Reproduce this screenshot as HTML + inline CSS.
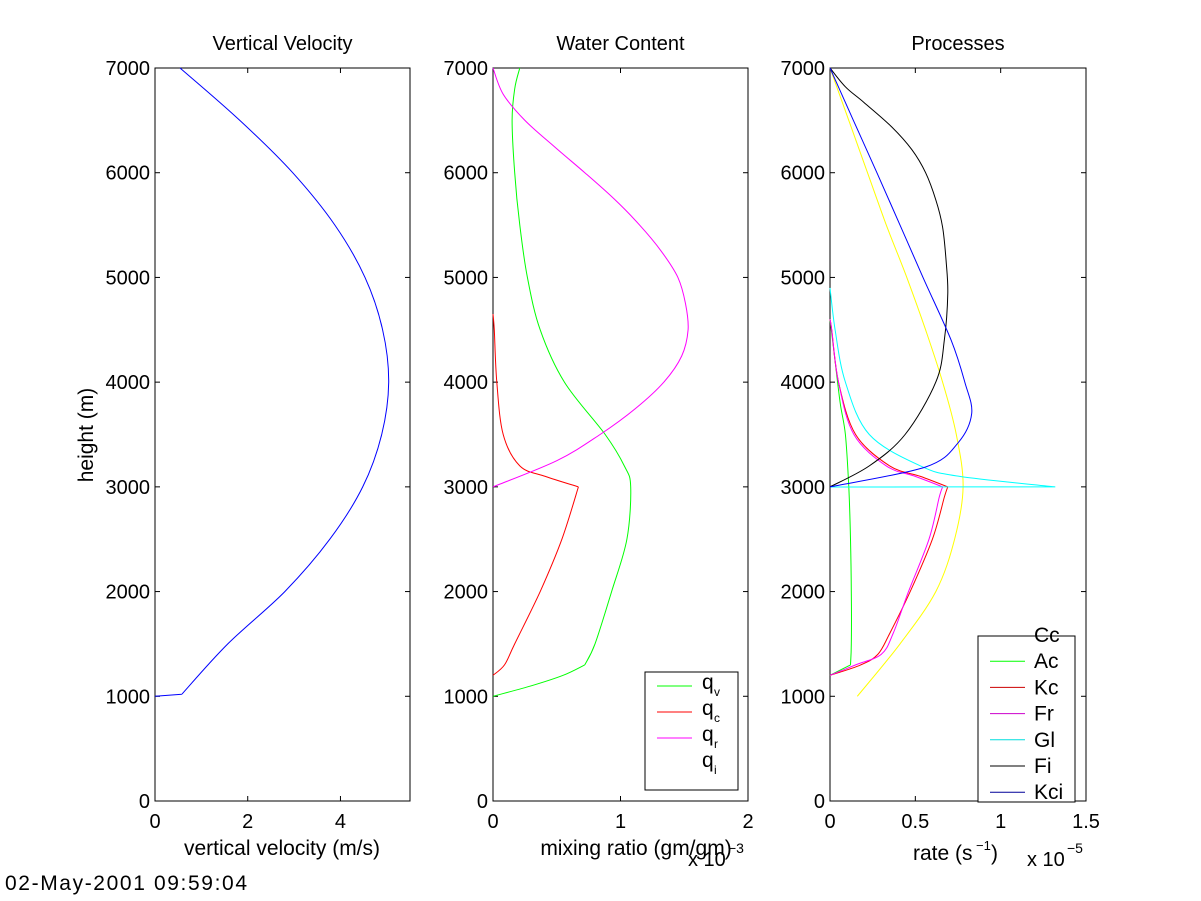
<!DOCTYPE html>
<html><head><meta charset="utf-8"><style>
html,body{margin:0;padding:0;background:#fff;}
svg{display:block;font-family:"Liberation Sans",sans-serif;}
</style></head><body>
<svg id="fig" width="1201" height="901" viewBox="0 0 1201 901" xmlns="http://www.w3.org/2000/svg"></svg>
<script>
const yTicks=[0,1000,2000,3000,4000,5000,6000,7000];
const velH=[1000,1020,1500,2000,2500,3000,3500,4000,4500,5000,5500,6000,6500,7000];
const velW=[0,0.58,1.57,2.8,3.77,4.48,4.89,5.04,4.91,4.53,3.88,2.97,1.83,0.54];
const qvH=[1000,1100,1200,1300,1500,2000,2500,3000,3200,3500,4000,4500,5000,5500,6000,6500,6800,7000];
const qvV=[0,0.3,0.55,0.72,0.8,0.93,1.05,1.08,1.03,0.88,0.56,0.37,0.27,0.21,0.17,0.15,0.17,0.21];
const qcH=[1200,1300,1500,2000,2500,3000,3100,3200,3500,4000,4500,4650];
const qcV=[0,0.09,0.17,0.37,0.54,0.67,0.41,0.21,0.08,0.03,0.01,0];
const qrH=[3000,3250,3500,3750,4000,4250,4500,4750,5000,5250,5500,5750,6000,6250,6500,6750,7000];
const qrV=[0,0.5,0.84,1.12,1.34,1.48,1.53,1.51,1.45,1.32,1.15,0.95,0.72,0.48,0.25,0.08,0];
const ccH=[1000,1500,2000,2500,3000,3500,4000,4500,5000,5500,6000,6500,7000];
const ccV=[0.16,0.41,0.62,0.73,0.78,0.74,0.66,0.56,0.45,0.33,0.22,0.11,0];
const acH=[1200,1300,1500,2000,2500,3000,3500,3800,4200,4600];
const acV=[0,0.12,0.125,0.125,0.12,0.11,0.09,0.06,0.03,0];
const kcH=[1200,1300,1400,1600,2000,2500,2900,3000,3100,3200,3500,4000,4500,4600];
const kcV=[0,0.18,0.28,0.35,0.47,0.6,0.67,0.69,0.53,0.35,0.15,0.05,0.01,0];
const frH=[1200,1300,1400,1600,2000,2500,2900,3000,3100,3200,3500,4000,4500,4600];
const frV=[0,0.15,0.3,0.37,0.46,0.58,0.64,0.66,0.5,0.33,0.14,0.05,0.01,0];
const glH=[2999,3000,3100,3200,3500,4000,4500,4900];
const glV=[0,1.32,0.76,0.53,0.23,0.09,0.03,0];
const fiH=[3000,3200,3500,4000,4400,4850,5160,5480,5740,6000,6220,6440,6670,6820,7000];
const fiV=[0,0.23,0.44,0.62,0.67,0.69,0.68,0.66,0.62,0.56,0.48,0.36,0.2,0.09,0];
const kciH=[3000,3190,3420,3700,4000,4400,5000,5500,6000,6500,7000];
const kciV=[0,0.56,0.75,0.83,0.79,0.71,0.545,0.41,0.275,0.137,0];

const svg=document.getElementById('fig');
const NS='http://www.w3.org/2000/svg';
function mk(tag,attrs,parent){const e=document.createElementNS(NS,tag);for(const k in attrs)e.setAttribute(k,attrs[k]);(parent||svg).appendChild(e);return e;}
const Y0=801,Y1=68;
function yS(h){return Y0-(h/7000)*(Y0-Y1);}
function text(x,y,s,anchor,size,name){const t=mk('text',{x:x,y:y,'text-anchor':anchor||'middle','font-size':size||20,fill:'#000'});t.textContent=s;


return t;}
function axes(x0,x1,xmax,xt,xlabels,title,name){
  const g=mk('g',{});
  
  
  const xs=v=>x0+(v/xmax)*(x1-x0);
  mk('rect',{x:x0,y:Y1,width:x1-x0,height:Y0-Y1,fill:'none',stroke:'#000','stroke-width':1},g);
  yTicks.forEach(h=>{const y=yS(h);mk('line',{x1:x0,y1:y,x2:x0+5,y2:y,stroke:'#000'},g);mk('line',{x1:x1,y1:y,x2:x1-5,y2:y,stroke:'#000'},g);
    text(x0-5,y+7,String(h),'end',20,'y-tick-label');});
  xt.forEach((v,i)=>{const x=xs(v);mk('line',{x1:x,y1:Y0,x2:x,y2:Y0-5,stroke:'#000'},g);mk('line',{x1:x,y1:Y1,x2:x,y2:Y1+5,stroke:'#000'},g);
    text(x,Y0+27,xlabels[i],'middle',20,'x-tick-label');});
  text((x0+x1)/2,50,title,'middle',20,'axis-title');
  return xs;
}
function line(xs,H,V,color,name,breaks){
  breaks=breaks||[];
  const P=H.map((h,i)=>[xs(V[i]),yS(h)]);
  let segs=[],start=0;
  breaks.concat([P.length-1]).forEach(b=>{segs.push(P.slice(start,b+1));start=b;});
  let d='';
  segs.forEach(S=>{
    d+='M'+S[0][0].toFixed(1)+','+S[0][1].toFixed(1);
    for(let i=0;i<S.length-1;i++){
      const p0=S[i-1]||S[i],p1=S[i],p2=S[i+1],p3=S[i+2]||S[i+1];
      const c1=[p1[0]+(p2[0]-p0[0])/6,p1[1]+(p2[1]-p0[1])/6];
      const c2=[p2[0]-(p3[0]-p1[0])/6,p2[1]-(p3[1]-p1[1])/6];
      d+='C'+c1[0].toFixed(1)+','+c1[1].toFixed(1)+' '+c2[0].toFixed(1)+','+c2[1].toFixed(1)+' '+p2[0].toFixed(1)+','+p2[1].toFixed(1);
    }
  });
  const p=mk('path',{d:d,fill:'none',stroke:color,'stroke-width':1});
  
  
}
// Panel 1
const xs1=axes(155,410,5.5,[0,2,4],['0','2','4'],'Vertical Velocity','velocity-axes');
line(xs1,velH,velW,'#0000ff','velocity-line',[1]);
text(282,855,'vertical velocity (m/s)','middle',21,'x-axis-title-velocity');
const yl=text(0,0,'height (m)','middle',21,'y-axis-title');
yl.setAttribute('transform','translate(93,435) rotate(-90)');
// Panel 2
const xs2=axes(493,748,2,[0,1,2],['0','1','2'],'Water Content','water-axes');
line(xs2,qvH,qvV,'#00ff00','qv-line',[3]);
line(xs2,qcH,qcV,'#ff0000','qc-line',[5]);
line(xs2,qrH,qrV,'#ff00ff','qr-line');
text(636,855,'mixing ratio (gm/gm)','middle',21,'x-axis-title-water');
text(688,866,'x 10','start',20,'x-exponent-water');
text(728,853,'−3','start',14,'x-exponent-power');
const lg2=mk('g',{});


mk('rect',{x:645,y:672,width:93,height:118,fill:'#fff',stroke:'#000'},lg2);
[['v','#00ff00'],['c','#ff0000'],['r','#ff00ff'],['i',null]].forEach((d,i)=>{
  const y=686+i*26;
  if(d[1])mk('line',{x1:657,y1:y,x2:692,y2:y,stroke:d[1]},lg2);
  const t=mk('text',{x:702,y:y+3,'font-size':21},lg2);t.textContent='q';
  const s=mk('text',{x:714,y:y+10,'font-size':12},lg2);s.textContent=d[0];
});
// Panel 3
const xs3=axes(830,1086,1.5,[0,0.5,1,1.5],['0','0.5','1','1.5'],'Processes','process-axes');
line(xs3,ccH,ccV,'#ffff00','cc-line');
line(xs3,acH,acV,'#00ff00','ac-line',[1]);
line(xs3,kcH,kcV,'#ff0000','kc-line',[7]);
line(xs3,frH,frV,'#ff00ff','fr-line',[7]);
line(xs3,glH,glV,'#00ffff','gl-line',[1]);
line(xs3,fiH,fiV,'#000000','fi-line');
line(xs3,kciH,kciV,'#0000ff','kci-line');
text(913,860,'rate (s','start',21,'x-axis-title-rate');
text(976,850,'−1','start',13,'rate-exponent');
text(991,860,')','start',21,'rate-paren');
text(1027,866,'x 10','start',20,'x-exponent-rate');
text(1067,853,'−5','start',14,'x-exponent-power-rate');
const lg3=mk('g',{});


mk('rect',{x:978,y:636,width:97,height:166,fill:'#fff',stroke:'#000'},lg3);
[['Cc','#ffff00'],['Ac','#00ff00'],['Kc','#cc0000'],['Fr','#cc00cc'],['Gl','#00dddd'],['Fi','#000'],['Kci','#000099']].forEach((d,i)=>{
  const y=635+i*26.2;
  if(i>0)mk('line',{x1:990,y1:y,x2:1025,y2:y,stroke:d[1]},lg3);
  const t=mk('text',{x:1034,y:y+7,'font-size':21},lg3);t.textContent=d[0];
});
const ts=text(5,890,'02-May-2001 09:59:04','start',21,'timestamp');
ts.setAttribute('textLength','242');
</script>
</body></html>
